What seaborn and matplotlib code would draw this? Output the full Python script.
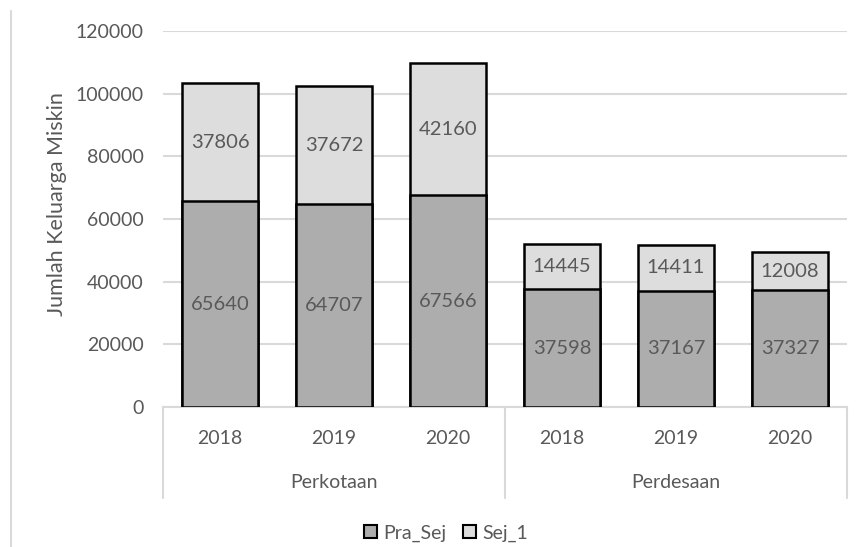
import matplotlib
matplotlib.use("Agg")
import matplotlib.pyplot as plt
from matplotlib.patches import Patch
from matplotlib.lines import Line2D
import matplotlib.transforms as mtransforms
import seaborn as sns
import pandas as pd

# Data
regions = ["Perkotaan", "Perkotaan", "Perkotaan", "Perdesaan", "Perdesaan", "Perdesaan"]
years = ["2018", "2019", "2020", "2018", "2019", "2020"]
pra_sej = [65640, 64707, 67566, 37598, 37167, 37327]
sej_1 = [37806, 37672, 42160, 14445, 14411, 12008]
group_names = ["Perkotaan", "Perdesaan"]
y_ticks = [0, 20000, 40000, 60000, 80000, 100000, 120000]

sns.set_theme(style="white")
plt.rcParams["font.family"] = ["Lato", "DejaVu Sans"]

TEXT = "#595959"
GRID = "#d9d9d9"
DARK = "#adadad"
LIGHT = "#dddddd"

df = pd.DataFrame({
    "slot": [f"{r}-{y}" for r, y in zip(regions, years)],
    "year": years,
    "region": regions,
    "pra": pra_sej,
    "sej": sej_1,
})
df["total"] = df["pra"] + df["sej"]

W, H = 861, 547
fig = plt.figure(figsize=(W / 100, H / 100), dpi=100)
ax_l, ax_r, ax_t, ax_b = 163, 847, 31, 407
ax = fig.add_axes([ax_l / W, 1 - ax_b / H, (ax_r - ax_l) / W, (ax_b - ax_t) / H])

order = list(df["slot"])
# Stacked bars: full height first (upper segment colour), lower segment drawn over it
sns.barplot(data=df, x="slot", y="total", order=order, color=LIGHT, saturation=1,
            width=0.67, edgecolor="black", linewidth=1.8, ax=ax, zorder=3)
sns.barplot(data=df, x="slot", y="pra", order=order, color=DARK, saturation=1,
            width=0.67, edgecolor="black", linewidth=1.8, ax=ax, zorder=4)

# Segment value labels
for i, row in df.iterrows():
    ax.text(i, row["pra"] / 2, f"{row['pra']}", ha="center", va="center",
            fontsize=14.5, color=TEXT, zorder=6)
    ax.text(i, row["pra"] + row["sej"] / 2, f"{row['sej']}", ha="center", va="center",
            fontsize=14.5, color=TEXT, zorder=6)

ax.set_ylim(0, 120000)
ax.set_xlim(-0.5, len(order) - 0.5)
ax.set_yticks(y_ticks)
ax.set_yticklabels([str(t) for t in y_ticks])
ax.tick_params(axis="y", length=0, pad=14, labelsize=14, labelcolor=TEXT)
ax.set_xticks([])
ax.set_xlabel("")
ax.set_ylabel("")
ax.yaxis.grid(True, color=GRID, linewidth=1.5, zorder=0)
ax.set_axisbelow(True)
for s in ["top", "right", "left"]:
    ax.spines[s].set_visible(False)
ax.spines["bottom"].set_color(GRID)
ax.spines["bottom"].set_linewidth(1.5)

# Two-level category axis
trans = mtransforms.blended_transform_factory(ax.transData, ax.transAxes)
h_px = ax_b - ax_t
def frac(px):
    return -(px - ax_b) / h_px

for i, y in enumerate(years):
    ax.text(i, frac(438), y, transform=trans, ha="center", va="center",
            fontsize=14, color=TEXT)
for g, name in enumerate(group_names):
    ax.text(g * 3 + 1, frac(483), name, transform=trans, ha="center", va="center",
            fontsize=14, color=TEXT)
for xs in [-0.5, 2.5, 5.5]:
    ax.add_line(Line2D([xs, xs], [0, frac(498)], transform=trans, color=GRID,
                       linewidth=1.5, clip_on=False))

# Axis title
fig.text(57 / W, 1 - 204 / H, "Jumlah Keluarga Miskin", rotation=90, ha="center",
         va="center", fontsize=15.5, color=TEXT)

# Chart border on the left
fig.add_artist(Line2D([10.5 / W, 10.5 / W], [1 - 11 / H, 0], transform=fig.transFigure,
                      color=GRID, linewidth=1.5))

handles = [Patch(facecolor=DARK, edgecolor="black", linewidth=1.5, label="Pra_Sej"),
           Patch(facecolor=LIGHT, edgecolor="black", linewidth=1.5, label="Sej_1")]
fig.legend(handles=handles, loc="center", bbox_to_anchor=(446 / W, 1 - 533 / H),
           ncol=2, frameon=False, fontsize=14, labelcolor=TEXT,
           handlelength=0.65, handleheight=0.65, handletextpad=0.3, columnspacing=0.9)

fig.savefig("out.png", dpi=100)
